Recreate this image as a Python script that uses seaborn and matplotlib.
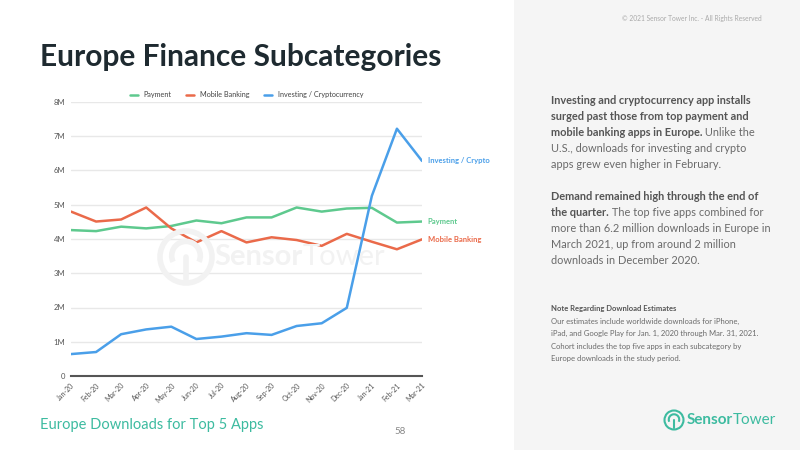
import numpy as np
import pandas as pd
import seaborn as sns
import matplotlib.pyplot as plt
from matplotlib.patches import Rectangle, Ellipse, Arc
from matplotlib.lines import Line2D

# --- data (downloads, millions) ---
months = ["Jan-20", "Feb-20", "Mar-20", "Apr-20", "May-20", "Jun-20", "Jul-20", "Aug-20",
          "Sep-20", "Oct-20", "Nov-20", "Dec-20", "Jan-21", "Feb-21", "Mar-21"]
payment = [4.26, 4.23, 4.36, 4.31, 4.38, 4.54, 4.46, 4.63, 4.63, 4.92, 4.80, 4.89, 4.91, 4.48, 4.51]
mobile_banking = [4.80, 4.51, 4.57, 4.92, 4.31, 3.90, 4.23, 3.90, 4.05, 3.97, 3.80, 4.15, 3.92, 3.70, 3.99]
investing = [0.64, 0.70, 1.22, 1.36, 1.44, 1.08, 1.15, 1.25, 1.20, 1.46, 1.54, 1.99, 5.26, 7.22, 6.28]
series_names = ["Payment", "Mobile Banking", "Investing / Cryptocurrency"]
end_labels = ["Payment", "Mobile Banking", "Investing / Crypto"]
y_ticks = [0, 1, 2, 3, 4, 5, 6, 7, 8]
y_labels = ["0", "1M", "2M", "3M", "4M", "5M", "6M", "7M", "8M"]

colors = ["#5ec98e", "#ea6a4a", "#4a9fe9"]
TEAL = "#3dbba0"
W, H = 800, 450

sns.set_style("white")
plt.rcParams["font.family"] = ["Lato", "DejaVu Sans"]

df = pd.DataFrame({
    "month": list(range(len(months))) * 3,
    "value": payment + mobile_banking + investing,
    "series": [n for n in series_names for _ in months],
})

fig = plt.figure(figsize=(8, 4.5), dpi=100)
fig.patch.set_facecolor("white")
renderer = fig.canvas.get_renderer()


def fx(px):
    return px / W


def fy(py):
    return 1 - py / H


def text_after(t, s, **kw):
    # place a second text right after an existing one (same baseline)
    bb = t.get_window_extent(renderer=renderer)
    x, y = t.get_position()
    return fig.text(bb.x1 / W, y, s, **kw)


def icon(cx, cy, r, color, lw, z):
    # simple version of the sensor tower logo mark
    fig.patches.append(Ellipse((fx(cx), fy(cy)), 2 * r / W, 2 * r / H,
                               transform=fig.transFigure, facecolor="none",
                               edgecolor=color, lw=lw, zorder=z))
    fig.patches.append(Arc((fx(cx), fy(cy - r * 0.05)), 1.1 * r / W, 1.1 * r / H,
                           theta1=-40, theta2=220, transform=fig.transFigure,
                           edgecolor=color, lw=lw, zorder=z))
    fig.lines.append(Line2D([fx(cx), fx(cx)], [fy(cy), fy(cy + r * 0.85)],
                            transform=fig.transFigure, color=color, lw=lw, zorder=z))


# grey side panel
fig.patches.append(Rectangle((fx(514), 0), fx(286), 1, transform=fig.transFigure,
                             facecolor="#f5f5f5", edgecolor="none", zorder=0))

# faint watermark behind the chart
WM = "#f2f2f2"
icon(186, 257, 26, WM, 4, 0)
wm = fig.text(fx(214), fy(257), "Sensor", fontsize=21, fontweight="bold",
              color=WM, va="center", ha="left", zorder=0)
text_after(wm, "Tower", fontsize=21, color=WM, va="center", ha="left", zorder=0)

ax = fig.add_axes([fx(71), 74 / H, fx(351), 274 / H])
ax.patch.set_alpha(0)

sns.lineplot(data=df, x="month", y="value", hue="series", palette=colors,
             linewidth=1.8, ax=ax, legend=True)

ax.set_xlim(0, len(months) - 1)
ax.set_ylim(0, 8)
ax.set_yticks(y_ticks)
ax.set_yticklabels(y_labels, fontsize=5.5, color="#555555")
ax.set_xticks(range(len(months)))
ax.set_xticklabels(months, rotation=45, ha="right", rotation_mode="anchor",
                   fontsize=5, color="#555555")
ax.tick_params(axis="both", length=0, pad=4)
ax.set_xlabel("")
ax.set_ylabel("")
ax.grid(axis="y", color="#e8e8e8", lw=1)
ax.set_axisbelow(True)
for s in ["top", "right", "left"]:
    ax.spines[s].set_visible(False)
ax.spines["bottom"].set_color("#555555")
ax.spines["bottom"].set_linewidth(1.5)

leg = ax.legend(loc="lower center", bbox_to_anchor=(0.5, 1.0), ncol=3, frameon=False,
                fontsize=5.2, handlelength=1.1, columnspacing=2.0, handletextpad=0.8,
                borderaxespad=0.1)
for t in leg.get_texts():
    t.set_color("#444444")

# end-of-line labels
for vals, lab, c in zip([payment, mobile_banking, investing], end_labels, colors):
    ax.annotate(lab, xy=(len(months) - 1, vals[-1]), xytext=(4, 0),
                textcoords="offset points", fontsize=5.5, fontweight="bold",
                color=c, va="center", ha="left", annotation_clip=False)

# title and footer
fig.text(fx(40), fy(57), "Europe Finance Subcategories", fontsize=21.5,
         fontweight="bold", color="#1e2a30", va="center", ha="left")
fig.text(fx(40), fy(425), "Europe Downloads for Top 5 Apps", fontsize=10.5,
         color=TEAL, va="center", ha="left")
fig.text(fx(400), fy(431), "58", fontsize=7, color="#888888", va="center", ha="center")

# side panel text
fig.text(fx(762), fy(19), "\u00a9 2021 Sensor Tower Inc. - All Rights Reserved",
         fontsize=4.8, color="#aaaaaa", va="center", ha="right")

x0 = fx(551)
BOLD_C = "#555555"
REG_C = "#6a6a6a"
FS = 7.9


def para_line(y, bold, regular=""):
    if bold:
        t = fig.text(x0, fy(y), bold, fontsize=FS, fontweight="bold",
                     color=BOLD_C, va="baseline", ha="left")
        if regular:
            text_after(t, regular, fontsize=FS, color=REG_C, va="baseline", ha="left")
    else:
        fig.text(x0, fy(y), regular, fontsize=FS, color=REG_C, va="baseline", ha="left")


para_line(104, "Investing and cryptocurrency app installs")
para_line(120, "surged past those from top payment and")
para_line(136, "mobile banking apps in Europe.", " Unlike the")
para_line(152, "", "U.S., downloads for investing and crypto")
para_line(168, "", "apps grew even higher in February.")
para_line(200, "Demand remained high through the end of")
para_line(216, "the quarter.", " The top five apps combined for")
para_line(232, "", "more than 6.2 million downloads in Europe in")
para_line(248, "", "March 2021, up from around 2 million")
para_line(264, "", "downloads in December 2020.")

fig.text(x0, fy(309), "Note Regarding Download Estimates", fontsize=5.5,
         fontweight="bold", color=BOLD_C, va="center", ha="left")
note_lines = ["Our estimates include worldwide downloads for iPhone,",
              "iPad, and Google Play for Jan. 1, 2020 through Mar. 31, 2021.",
              "Cohort includes the top five apps in each subcategory by",
              "Europe downloads in the study period."]
for i, line in enumerate(note_lines):
    fig.text(x0, fy(321.5 + i * 12.4), line, fontsize=5.5, color=REG_C,
             va="center", ha="left")

# logo
icon(674, 420, 9.5, TEAL, 1.5, 2)
lg = fig.text(fx(687), fy(420), "Sensor", fontsize=11, fontweight="bold",
              color=TEAL, va="center", ha="left")
text_after(lg, "Tower", fontsize=11, color=TEAL, va="center", ha="left")

fig.savefig("out.png", dpi=100)
